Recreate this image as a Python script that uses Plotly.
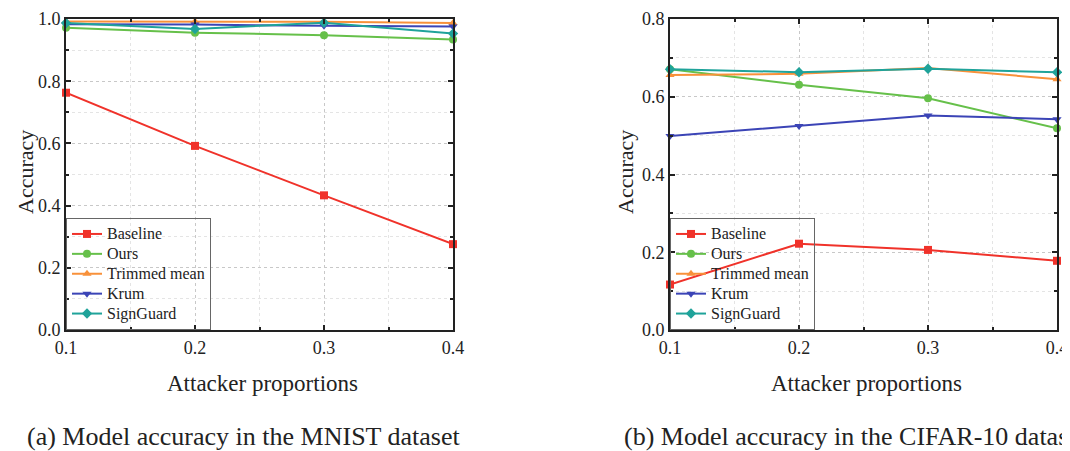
import plotly.graph_objects as go

x_vals = [0.1, 0.2, 0.3, 0.4]
series_names = ["Baseline", "Ours", "Trimmed mean", "Krum", "SignGuard"]

mnist_baseline = [0.763, 0.592, 0.433, 0.276]
mnist_ours = [0.972, 0.956, 0.948, 0.934]
mnist_trimmed = [0.992, 0.992, 0.991, 0.987]
mnist_krum = [0.983, 0.982, 0.978, 0.976]
mnist_signguard = [0.987, 0.968, 0.988, 0.953]

cifar_baseline = [0.117, 0.222, 0.206, 0.178]
cifar_ours = [0.671, 0.631, 0.596, 0.519]
cifar_trimmed = [0.656, 0.659, 0.674, 0.645]
cifar_krum = [0.499, 0.525, 0.552, 0.542]
cifar_signguard = [0.671, 0.663, 0.672, 0.663]

colors = ["#f0322a", "#66c04a", "#f8913a", "#3b44b6", "#1fa39a"]
symbols = ["square", "circle", "triangle-up", "triangle-down", "diamond"]

FONT = "Liberation Serif"

fig = go.Figure()

mnist = [mnist_baseline, mnist_ours, mnist_trimmed, mnist_krum, mnist_signguard]
cifar = [cifar_baseline, cifar_ours, cifar_trimmed, cifar_krum, cifar_signguard]


def legend_label(name):
    return '<span style="font-size:16px">%s</span>' % name


for i, name in enumerate(series_names):
    fig.add_trace(go.Scatter(
        x=x_vals, y=mnist[i], name=legend_label(name), mode="lines+markers",
        line=dict(color=colors[i], width=2),
        marker=dict(symbol=symbols[i], size=8, color=colors[i]),
        xaxis="x", yaxis="y", legend="legend", cliponaxis=False))
for i, name in enumerate(series_names):
    fig.add_trace(go.Scatter(
        x=x_vals, y=cifar[i], name=legend_label(name), mode="lines+markers",
        line=dict(color=colors[i], width=2),
        marker=dict(symbol=symbols[i], size=8, color=colors[i]),
        xaxis="x2", yaxis="y2", legend="legend2", cliponaxis=False))

# page body has an 8px margin; coordinates below are screen pixels
OFF = 8
W, H = 1070, 451
L1, R1 = 66 - OFF, 453 - OFF
L2, R2 = 670 - OFF, 1057 - OFF
T, B = 19 - OFF, 330 - OFF
PW = R2 - L1
PH = B - T


def px(xpix):
    return (xpix - OFF - L1) / PW


def py(ypix):
    return (B - (ypix - OFF)) / PH


def xax(domain, anchor):
    return dict(
        domain=domain, anchor=anchor, range=[0.1, 0.4], automargin=False,
        tickvals=[0.1, 0.2, 0.3, 0.4], ticktext=["0.1", "0.2", "0.3", "0.4"],
        ticks="inside", ticklen=5, tickwidth=1.5, tickcolor="#222",
        showline=True, linecolor="#222", linewidth=2, mirror="ticks",
        showgrid=True, gridcolor="#c8c8c8", griddash="dot", gridwidth=1,
        minor=dict(tickvals=[0.15, 0.25, 0.35], ticks="inside", ticklen=3,
                   tickcolor="#222", showgrid=True, gridcolor="#e4e4e4", griddash="dot"),
        tickfont=dict(family=FONT, size=18, color="#222"),
        zeroline=False, fixedrange=True)


def yax(domain, anchor, rng, tv):
    return dict(
        domain=domain, anchor=anchor, range=rng, automargin=False,
        tickvals=tv, ticktext=["%.1f" % v for v in tv],
        ticks="inside", ticklen=5, tickwidth=1.5, tickcolor="#222",
        showline=True, linecolor="#222", linewidth=2, mirror="ticks",
        showgrid=True, gridcolor="#c8c8c8", griddash="dot", gridwidth=1,
        minor=dict(dtick=0.1, ticks="inside", ticklen=3, tickcolor="#222",
                   showgrid=True, gridcolor="#e4e4e4", griddash="dot"),
        tickfont=dict(family=FONT, size=18, color="#222"),
        zeroline=False, fixedrange=True)


leg_common = dict(yanchor="bottom", y=0, xanchor="left",
                  bgcolor="rgba(255,255,255,0)", bordercolor="#666", borderwidth=1,
                  font=dict(family=FONT, size=13, color="#222"),
                  itemwidth=30, tracegroupgap=0)

fig.update_layout(
    width=W, height=H,
    margin=dict(l=L1, r=W - R2, t=T, b=H - B, autoexpand=False),
    paper_bgcolor="white", plot_bgcolor="white",
    showlegend=True,
    xaxis=xax([0, px(453)], "y"),
    yaxis=yax([0, 1], "x", [0, 1.0], [0.0, 0.2, 0.4, 0.6, 0.8, 1.0]),
    xaxis2=xax([px(670), 1], "y2"),
    yaxis2=yax([0, 1], "x2", [0, 0.8], [0.0, 0.2, 0.4, 0.6, 0.8]),
    legend=dict(x=0, **leg_common),
    legend2=dict(x=px(670), **leg_common),
    font=dict(family=FONT, color="#222"),
)

ann = []
for cx, title_x in [(262, 25), (866, 625)]:
    ann.append(dict(x=px(cx), y=py(383), xref="paper", yref="paper",
                    xanchor="center", yanchor="middle",
                    text="Attacker proportions", showarrow=False,
                    font=dict(family=FONT, size=23, color="#222")))
    ann.append(dict(x=px(title_x), y=py(172), xref="paper", yref="paper",
                    xanchor="center", yanchor="middle",
                    text="Accuracy", textangle=-90, showarrow=False,
                    font=dict(family=FONT, size=22, color="#222")))
ann.append(dict(x=px(25), y=py(437), xref="paper", yref="paper",
                xanchor="left", yanchor="middle",
                text="(a) Model accuracy in the MNIST dataset", showarrow=False,
                font=dict(family=FONT, size=26, color="#222")))
ann.append(dict(x=px(622), y=py(437), xref="paper", yref="paper",
                xanchor="left", yanchor="middle",
                text="(b) Model accuracy in the CIFAR-10 dataset", showarrow=False,
                font=dict(family=FONT, size=26, color="#222")))
fig.update_layout(annotations=ann)

fig.write_html("out.html")
